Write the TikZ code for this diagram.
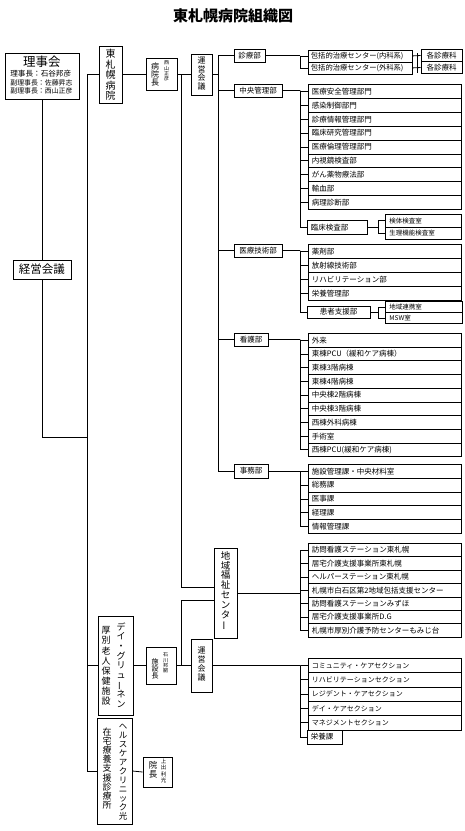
\documentclass[tikz,border=0pt]{standalone}
\usepackage{fontspec}
\newfontfamily\jp{Noto Sans CJK JP}
\usetikzlibrary{calc}
\newcommand\vf[2]{\jp\fontsize{#1}{#2}\selectfont\lineskiplimit=-50pt\lineskip=0pt\relax}
\newcommand\vbar{\rotatebox[origin=c]{90}{ー}}
\begin{document}
\begin{tikzpicture}[x=1pt,y=-1pt,line width=0.8pt,
  every node/.style={inner sep=0pt},
  dept/.style={draw, font=\jp\fontsize{7.5}{9}\selectfont},
  rowbox/.style={draw, anchor=north west, inner xsep=3.5pt, align=left, font=\jp\fontsize{7.5}{9}\selectfont},
  wide/.style={minimum width=153pt, text width=146pt},
  small/.style={draw, anchor=north west, inner xsep=4pt, align=left, minimum width=76pt, text width=68pt, font=\jp\fontsize{6.5}{8}\selectfont},
  vbox/.style={draw},
  vtxt/.style={align=center}]
\useasboundingbox (0,0) rectangle (464,831);

% title
\node[font=\jp\bfseries\fontsize{15}{18}\selectfont] (title) at (233,15.5) {東札幌病院組織図};

% left column
\node[vbox, minimum width=74pt, minimum height=46pt] (rijikai) at (42,76) {};
\node[font=\jp\fontsize{12.5}{14}\selectfont] (rjt) at (42,61.5) {理事会};
\node[font=\jp\fontsize{7.6}{9}\selectfont, anchor=west] (rj1) at (10,74) {理事長：石谷邦彦};
\node[font=\jp\fontsize{6.9}{9}\selectfont, anchor=west] (rj2) at (10,82.5) {副理事長：佐藤昇志};
\node[font=\jp\fontsize{6.9}{9}\selectfont, anchor=west] (rj3) at (10,91) {副理事長：西山正彦};
\node[draw, minimum width=58pt, minimum height=19pt, font=\jp\fontsize{11.5}{13}\selectfont] (keiei) at (42,269.5) {経営会議};

% hospital chain
\node[vbox, minimum width=23pt, minimum height=57pt] (hosp) at (110.5,74.5) {};
\node[vtxt, font=\vf{10}{10.4}] (hospT) at (110.5,75) {東\\札\\幌\\病\\院};
\node[vbox, minimum width=31pt, minimum height=32pt] (incho) at (161.5,74.5) {};
\node[vtxt, font=\vf{8}{8.2}] (inchoT) at (155,74.7) {病\\院\\長};
\node[vtxt, font=\vf{5}{5.2}] (inchoN) at (166.5,71) {西\\山\\正\\彦};
\node[vbox, minimum width=21pt, minimum height=41pt] (unei1) at (201.5,74.5) {};
\node[vtxt, font=\vf{8}{8.5}] (unei1T) at (201.5,73.5) {運\\営\\会\\議};

% departments
\node[dept, minimum width=31pt, minimum height=13pt] (shinryo) at (249.5,55.5) {診療部};
\node[dept, minimum width=48pt, minimum height=13pt] (chuo) at (258,90.5) {中央管理部};
\node[dept, minimum width=48pt, minimum height=13pt] (gijutsu) at (258,250.5) {医療技術部};
\node[dept, minimum width=34pt, minimum height=13pt] (kango) at (251,339.5) {看護部};
\node[dept, minimum width=34pt, minimum height=14pt] (jimu) at (251,471) {事務部};

% shinryo group
\node[rowbox, minimum width=104pt, text width=99pt, inner xsep=2.5pt, minimum height=12pt, font=\jp\fontsize{7.3}{9}\selectfont] (sh-0) at (308,49.5) {包括的治療センター(内科系)};
\node[rowbox, minimum width=104pt, text width=99pt, inner xsep=2.5pt, minimum height=12pt, font=\jp\fontsize{7.3}{9}\selectfont] (sh-1) at (308,61.5) {包括的治療センター(外科系)};
\node[dept, minimum width=41pt, minimum height=12pt] (kk-0) at (441.5,55.5) {各診療科};
\node[dept, minimum width=41pt, minimum height=12pt] (kk-1) at (441.5,67.5) {各診療科};

% chuo group
\foreach \t [count=\i from 0] in {医療安全管理部門,感染制御部門,診療情報管理部門,臨床研究管理部門,医療倫理管理部門,内視鏡検査部,がん薬物療法部,輸血部,病理診断部}
  \node[rowbox, wide, minimum height=13.9pt] (chuo-\i) at (308,{84+13.9*\i}) {\t};
\node[rowbox, minimum width=60pt, text width=53pt, minimum height=14pt] (rinsho) at (307,220) {臨床検査部};
\node[small, minimum height=12.5pt] (kentai) at (385,214) {検体検査室};
\node[small, minimum height=12.5pt] (seiri) at (385,226.5) {生理機能検査室};

% gijutsu group
\foreach \t [count=\i from 0] in {薬剤部,放射線技術部,リハビリテーション部,栄養管理部}
  \node[rowbox, wide, minimum height=14pt] (gi-\i) at (308,{244+14*\i}) {\t};
\node[dept, minimum width=63pt, minimum height=12pt] (kanja) at (338.5,312) {患者支援部};
\node[small, minimum height=11pt, minimum width=77pt, text width=69pt] (renkei) at (385,301) {地域連携室};
\node[small, minimum height=11pt, minimum width=77pt, text width=69pt] (msw) at (385,312) {MSW室};

% kango group
\foreach \t [count=\i from 0] in {外来,東棟PCU（緩和ケア病棟）,東棟3階病棟,東棟4階病棟,中央棟2階病棟,中央棟3階病棟,西棟外科病棟,手術室,西棟PCU(緩和ケア病棟)}
  \node[rowbox, wide, minimum height=13.7pt] (ka-\i) at (308,{333+13.7*\i}) {\t};

% jimu group
\foreach \t [count=\i from 0] in {施設管理課・中央材料室,総務課,医事課,経理課,情報管理課}
  \node[rowbox, wide, minimum height=13.8pt] (ji-\i) at (308,{464+13.8*\i}) {\t};

% chiiki
\node[vbox, minimum width=23pt, minimum height=90pt] (chiiki) at (225.5,593) {};
\node[vtxt, font=\vf{9.5}{9.8}] (chiikiT) at (225.5,591) {地\\域\\福\\祉\\セ\\ン\\タ\\\vbar};
\foreach \t [count=\i from 0] in {訪問看護ステーション東札幌,居宅介護支援事業所東札幌,ヘルパーステーション東札幌,札幌市白石区第2地域包括支援センター,訪問看護ステーションみずほ,居宅介護支援事業所D.G,札幌市厚別介護予防センターもみじ台}
  \node[rowbox, wide, minimum height=13.4pt] (ch-\i) at (308,{543+13.4*\i}) {\t};

% day gruenen
\node[vbox, minimum width=35pt, minimum height=99pt] (day) at (115.5,665.5) {};
\node[vtxt, font=\vf{9}{9.6}] (dayR) at (121,665) {デ\\イ\\・\\グ\\リ\\ュ\\\vbar\\ネ\\ン};
\node[vtxt, font=\vf{9}{10.1}] (dayL) at (106,666) {厚\\別\\老\\人\\保\\健\\施\\設};
\node[vbox, minimum width=30pt, minimum height=37pt] (shisetsu) at (161,665.5) {};
\node[vtxt, font=\vf{7}{7.2}] (shisetsuT) at (155,668.8) {施\\設\\長};
\node[vtxt, font=\vf{5}{5.2}] (shisetsuN) at (165.7,663) {石\\川\\邦\\嗣};
\node[vbox, minimum width=21pt, minimum height=53pt] (unei2) at (201.5,665.5) {};
\node[vtxt, font=\vf{8}{9}] (unei2T) at (201.5,664.5) {運\\営\\会\\議};
\foreach \t [count=\i from 0] in {コミュニティ・ケアセクション,リハビリテーションセクション,レジデント・ケアセクション,デイ・ケアセクション,マネジメントセクション}
  \node[rowbox, wide, minimum height=14.3pt, font=\jp\fontsize{7}{9}\selectfont] (se-\i) at (308,{658+14.3*\i}) {\t};
\node[rowbox, minimum width=35pt, text width=28pt, minimum height=14pt] (eiyo) at (307,729.5) {栄養課};

% healthcare clinic
\node[vbox, minimum width=35pt, minimum height=106pt] (hc) at (114.5,771) {};
\node[vtxt, font=\vf{8.5}{9}] (hcR) at (123,772.5) {ヘ\\ル\\ス\\ケ\\ア\\ク\\リ\\ニ\\ッ\\ク\\光};
\node[vtxt, font=\vf{9}{9.2}] (hcL) at (107,768.5) {在\\宅\\療\\養\\支\\援\\診\\療\\所};
\node[vbox, minimum width=29pt, minimum height=30pt] (in2) at (157.5,772) {};
\node[vtxt, font=\vf{8.5}{9}] (in2T) at (153,770) {院\\長};
\node[vtxt, font=\vf{5.5}{6.6}] (in2N) at (163.5,771) {上\\出\\利\\光};

% ---------------- connectors ----------------
\coordinate (tr) at (87,0);
\coordinate (k1) at (87,437);
\coordinate (v1) at (181,0);
\coordinate (v2) at (218,0);
\coordinate (bx) at (300,0);
\coordinate (sb) at (378,0);
\coordinate (kb1) at (417,53);
\coordinate (kb2) at (417,73);

\draw (rijikai.south) -- (keiei.north);
\draw (keiei.south) |- (k1);
\draw (hosp.west) -| (tr |- hc.west) -- (hc.west);
\draw (tr |- day.west) -- (day.west);

\draw (hosp.east) -- (incho.west);
\draw (incho.east) -- (unei1.west);
\draw (v1 |- incho.east) |- ($(chiiki.west)+(0,-6)$);
\draw (day.east) -- (shisetsu.west);
\draw (shisetsu.east) -- (unei2.west);
\draw (v1 |- shisetsu.east) |- ($(chiiki.west)+(0,7)$);
\draw (hc.east) -- (in2.west);

\draw (unei1.east) -- (v2 |- unei1.east);
\draw (v2 |- shinryo.west) -- (v2 |- jimu.west);
\foreach \d in {shinryo,chuo,gijutsu,kango,jimu}
  \draw (v2 |- \d.west) -- (\d.west);

% shinryo
\draw (shinryo.east) -- (bx |- shinryo.east);
\foreach \n in {sh-0,sh-1} \draw (bx |- shinryo.east) |- (\n.west);
\draw (sh-0.east) -- (kk-0.west);
\draw (sh-1.east) -- (kk-1.west);
\draw (kb1) -- (kb2);

% chuo
\draw (chuo.east) -- (bx |- chuo.east);
\foreach \i in {0,...,8} \draw (bx |- chuo.east) |- (chuo-\i.west);
\draw (bx |- chuo.east) |- (rinsho.west);
\draw (rinsho.east) -- (sb |- rinsho.east);
\foreach \n in {kentai,seiri} \draw (sb |- rinsho.east) |- (\n.west);

% gijutsu
\draw (gijutsu.east) -- (bx |- gijutsu.east);
\foreach \i in {0,...,3} \draw (bx |- gijutsu.east) |- (gi-\i.west);
\draw (bx |- gijutsu.east) |- (kanja.west);
\draw (kanja.east) -- (sb |- kanja.east);
\foreach \n in {renkei,msw} \draw (sb |- kanja.east) |- (\n.west);

% kango
\draw (kango.east) -- (bx |- kango.east);
\foreach \i in {0,...,8} \draw (bx |- kango.east) |- (ka-\i.west);

% jimu
\draw (jimu.east) -- (bx |- jimu.east);
\foreach \i in {0,...,4} \draw (bx |- jimu.east) |- (ji-\i.west);

% chiiki
\draw (chiiki.east) -- (bx |- chiiki.east);
\foreach \i in {0,...,6} \draw (bx |- chiiki.east) |- (ch-\i.west);

% unei2
\draw (unei2.east) -- (bx |- unei2.east);
\foreach \i in {0,...,4} \draw (bx |- unei2.east) |- (se-\i.west);
\draw (bx |- unei2.east) |- (eiyo.west);
\end{tikzpicture}
\end{document}
